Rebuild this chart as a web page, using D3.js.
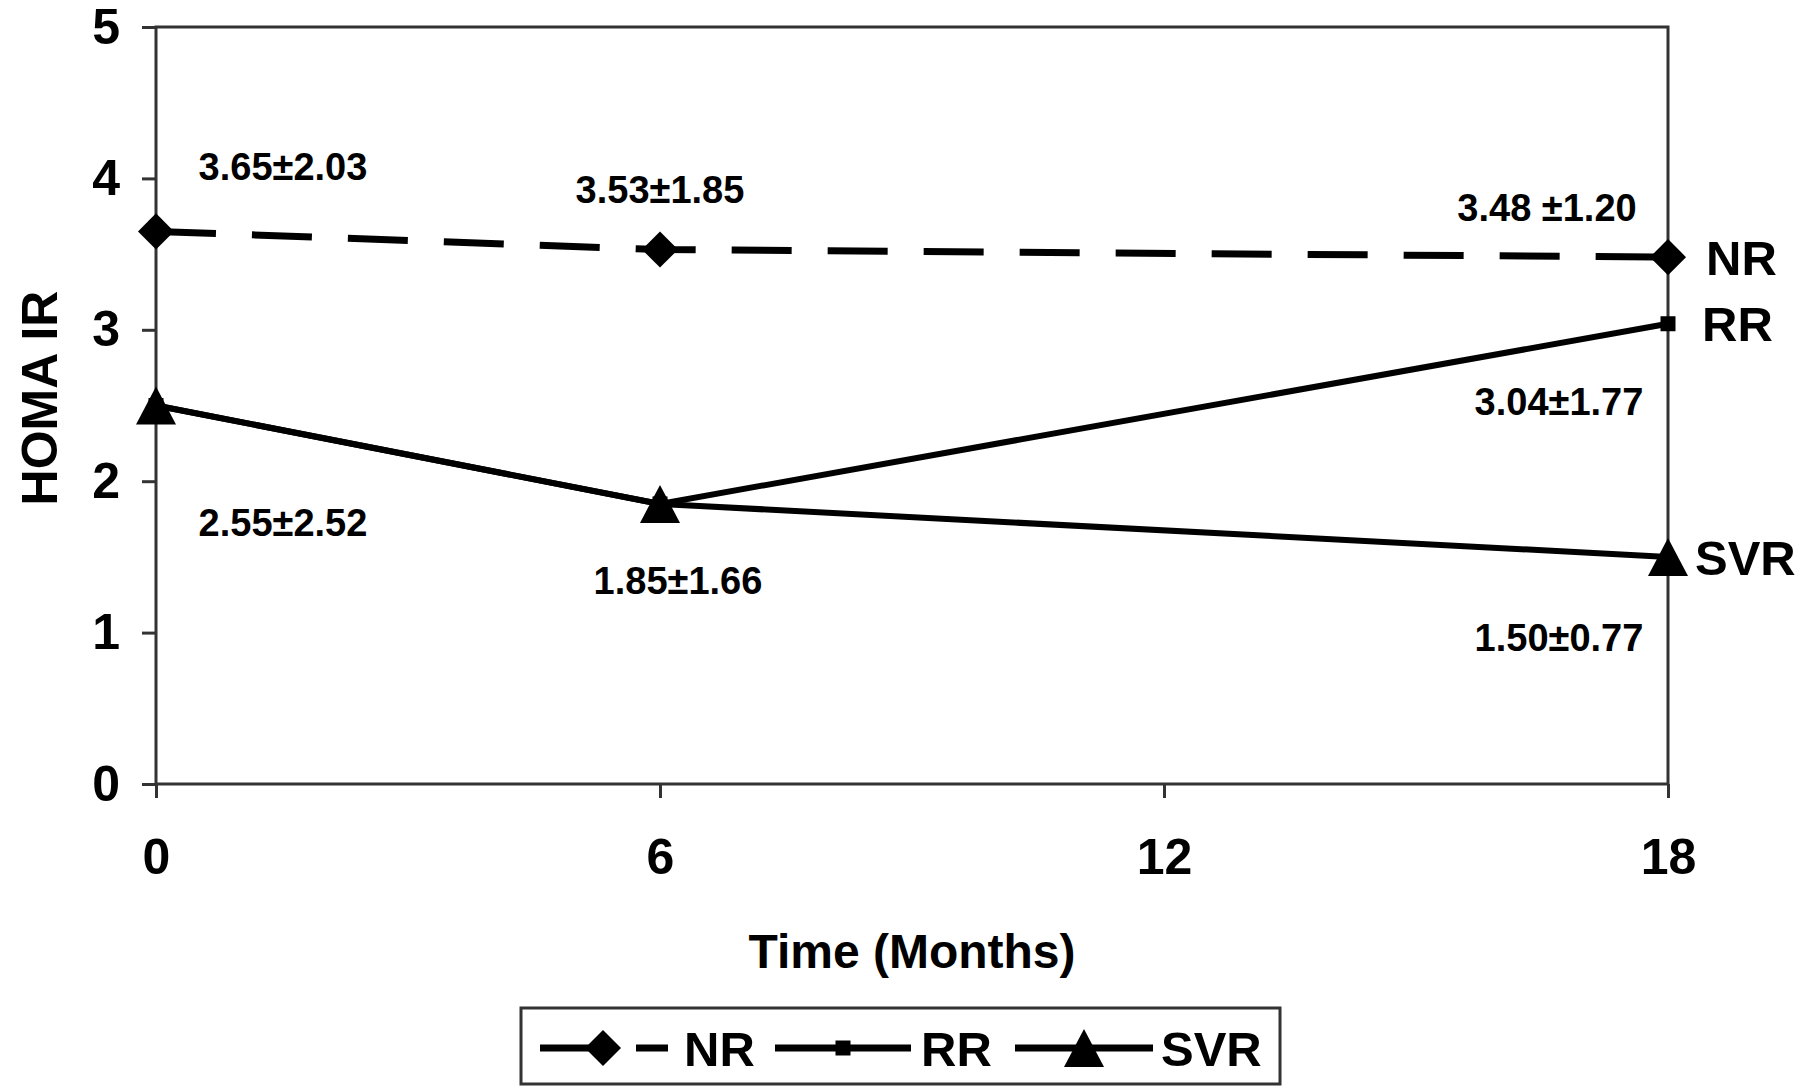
<!DOCTYPE html>
<html>
<head>
<meta charset="utf-8">
<script src="https://cdn.jsdelivr.net/npm/d3@7"></script>
<style>
    body { margin: 0; background: #fff; }
    svg { display: block; }
    text { font-family: "Liberation Sans", Arial, sans-serif; font-weight: bold; fill: #000; }
</style>
</head>
<body>
<div id="chart"></div>
<script>

// values
const months = [0, 6, 18];
const nrValues = [3.65, 3.53, 3.48];
const rrValues = [2.50, 1.85, 3.04];
const svrValues = [2.50, 1.85, 1.50];
const nrLabels = ["3.65±2.03", "3.53±1.85", "3.48 ±1.20"];
const rrLabels = [null, null, "3.04±1.77"];
const svrLabels = ["2.55±2.52", "1.85±1.66", "1.50±0.77"];
const xTicks = [0, 6, 12, 18];
const yTicks = [0, 1, 2, 3, 4, 5];

const width = 1801, height = 1087;
const margin = {top: 27, right: 133, bottom: 303, left: 156};

const svg = d3.select("#chart").append("svg")
    .attr("width", width)
    .attr("height", height);

const x = d3.scaleLinear().domain([0, 18]).range([margin.left, width - margin.right]);
const y = d3.scaleLinear().domain([0, 5]).range([height - margin.bottom, margin.top]);

const axisColor = "#333";

// markers
const diamond = d3.symbol(d3.symbolSquare, 650)();
const smallSquare = d3.symbol(d3.symbolSquare, 225)();
const triangle = (w, h) => `M0,${-h / 2}L${w / 2},${h / 2}L${-w / 2},${h / 2}Z`;

const series = [
    {name: "NR", values: nrValues, labels: nrLabels, dash: "60,36"},
    {name: "RR", values: rrValues, labels: rrLabels, dash: null},
    {name: "SVR", values: svrValues, labels: svrLabels, dash: null}
];

function drawMarker(g, name, cx, cy) {
    if (name === "NR") {
        g.append("path").attr("d", diamond)
            .attr("transform", `translate(${cx},${cy}) rotate(45)`);
    } else if (name === "RR") {
        g.append("path").attr("d", smallSquare)
            .attr("transform", `translate(${cx},${cy})`);
    } else {
        g.append("path").attr("d", triangle(40, 38))
            .attr("transform", `translate(${cx},${cy})`);
    }
}

// y axis
const yAxis = svg.append("g")
    .attr("transform", `translate(${margin.left},0)`)
    .call(d3.axisLeft(y).tickValues(yTicks).tickSize(14).tickPadding(22).tickFormat(d3.format("d")));
yAxis.select(".domain").remove();
yAxis.selectAll("line").attr("stroke", axisColor).attr("stroke-width", 3);
yAxis.selectAll("text").style("font-size", "50px");

// x axis
const xAxis = svg.append("g")
    .attr("transform", `translate(0,${y(0)})`)
    .call(d3.axisBottom(x).tickValues(xTicks).tickSize(14).tickPadding(40).tickFormat(d3.format("d")));
xAxis.select(".domain").remove();
xAxis.selectAll("line").attr("stroke", axisColor).attr("stroke-width", 3);
xAxis.selectAll("text").style("font-size", "50px");

// plot frame (axes + top/right border)
svg.append("rect")
    .attr("x", x(0))
    .attr("y", y(5))
    .attr("width", x(18) - x(0))
    .attr("height", y(0) - y(5))
    .attr("fill", "none")
    .attr("stroke", axisColor)
    .attr("stroke-width", 3);

// lines
const line = d3.line()
    .x((d, i) => x(months[i]))
    .y(d => y(d));

const lineG = svg.append("g");
series.forEach(s => {
    lineG.append("path")
        .datum(s.values)
        .attr("d", line)
        .attr("fill", "none")
        .attr("stroke", "#000")
        .attr("stroke-width", s.name === "NR" ? 7 : 6)
        .attr("stroke-dasharray", s.dash);
});

// markers on points
const markerG = svg.append("g").attr("fill", "#000");
series.forEach(s => {
    s.values.forEach((v, i) => drawMarker(markerG, s.name, x(months[i]), y(v)));
});

// value labels (mean ± sd), offsets in pixels from the point
const labelOffsets = {
    NR: [[127, -65], [0, -60], [-121, -50]],
    RR: [null, null, [-109, 78]],
    SVR: [[127, 117], [18, 76], [-109, 80]]
};
const labelG = svg.append("g");
series.forEach(s => {
    s.labels.forEach((t, i) => {
        if (!t) return;
        const off = labelOffsets[s.name][i];
        labelG.append("text")
            .attr("x", x(months[i]) + off[0])
            .attr("y", y(s.values[i]) + off[1])
            .attr("dy", "0.36em")
            .attr("text-anchor", "middle")
            .style("font-size", "38px")
            .text(t);
    });
});

// series names at the end of the lines
const endDx = {NR: 38, RR: 34, SVR: 27};
series.forEach(s => {
    svg.append("text")
        .attr("x", x(18) + endDx[s.name])
        .attr("y", y(s.values[2]))
        .attr("dy", "0.36em")
        .style("font-size", "49px")
        .text(s.name);
});

// axis titles
svg.append("text")
    .attr("transform", `translate(57,398) rotate(-90)`)
    .attr("text-anchor", "middle")
    .style("font-size", "50px")
    .text("HOMA IR");

svg.append("text")
    .attr("x", (x(0) + x(18)) / 2)
    .attr("y", 968)
    .attr("text-anchor", "middle")
    .style("font-size", "48px")
    .text("Time (Months)");

// legend
const legend = svg.append("g");
legend.append("rect")
    .attr("x", 521).attr("y", 1008)
    .attr("width", 759).attr("height", 76)
    .attr("fill", "#fff")
    .attr("stroke", axisColor)
    .attr("stroke-width", 3);

const legendItems = [
    {name: "NR", x0: 540, x1: 668, tx: 684},
    {name: "RR", x0: 775, x1: 911, tx: 921},
    {name: "SVR", x0: 1015, x1: 1153, tx: 1161}
];
const legendY = 1048;
legendItems.forEach(it => {
    const s = series.find(d => d.name === it.name);
    legend.append("line")
        .attr("x1", it.x0).attr("x2", it.x1)
        .attr("y1", legendY).attr("y2", legendY)
        .attr("stroke", "#000")
        .attr("stroke-width", 7)
        .attr("stroke-dasharray", s.dash);
    const mg = legend.append("g").attr("fill", "#000");
    drawMarker(mg, it.name, (it.x0 + it.x1) / 2 + (it.name === "NR" ? -1 : 0), legendY);
    legend.append("text")
        .attr("x", it.tx)
        .attr("y", legendY)
        .attr("dy", "0.36em")
        .style("font-size", "49px")
        .text(it.name);
});

</script>
</body>
</html>
